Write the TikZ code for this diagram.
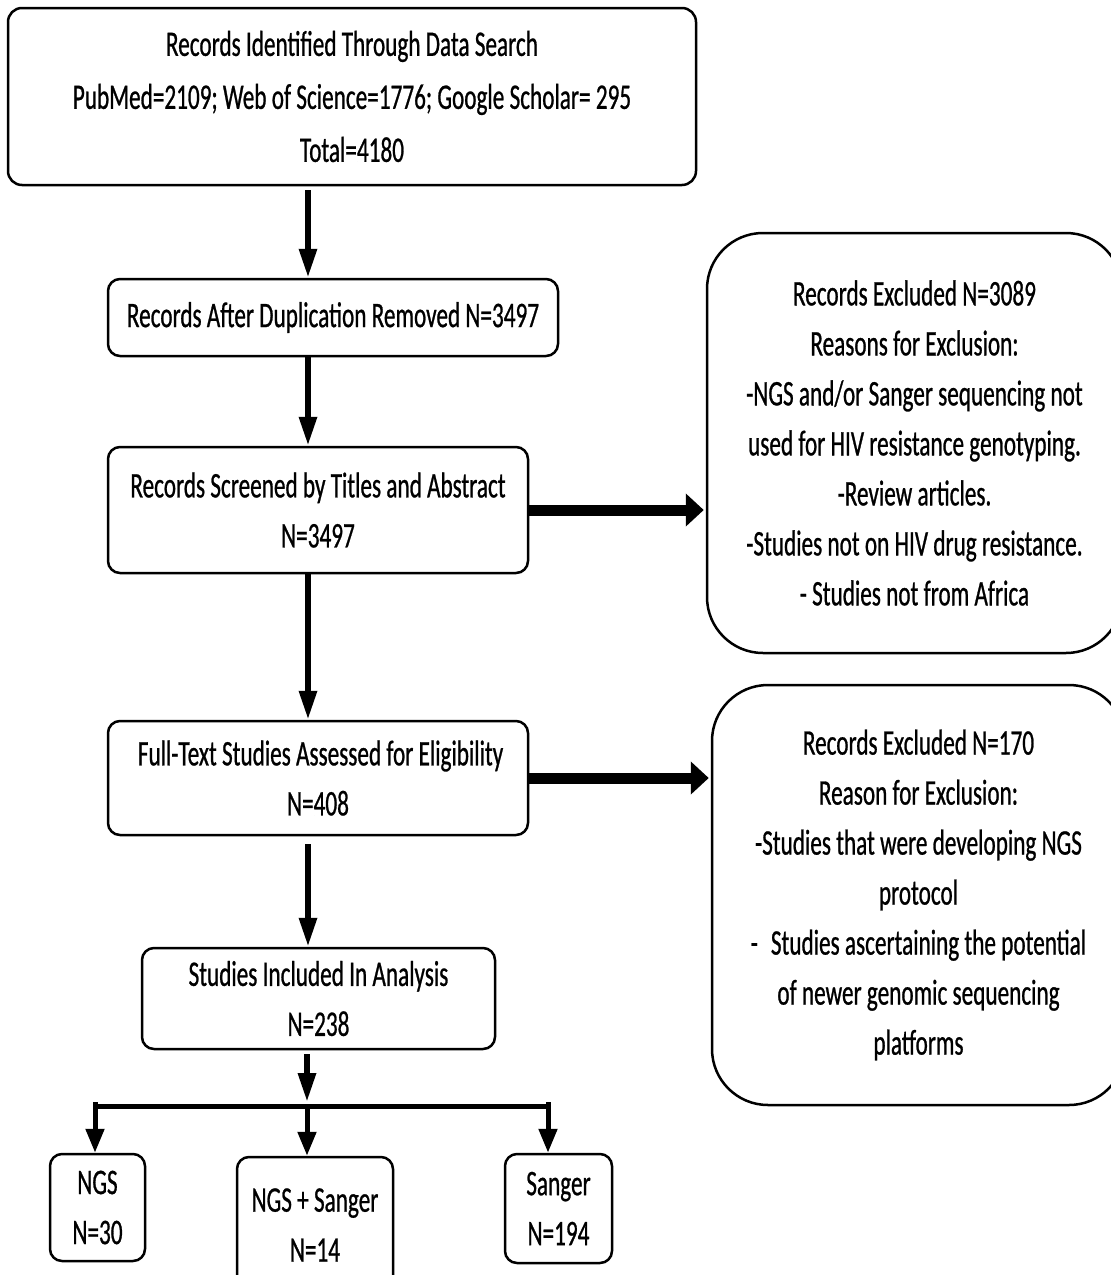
\documentclass[tikz,border=0pt]{standalone}
\usepackage{fontspec}
\setmainfont{Carlito}[FakeStretch=0.645,FakeBold=0.7]
\usetikzlibrary{arrows.meta}

\begin{document}
\begin{tikzpicture} [
  x=1pt, y=-1pt,
  font=\fontsize{36}{50}\selectfont,
  flow box/.style= {draw,line width=2.5pt,rounded corners=12pt,align=center,inner sep=0pt},
  side box/.style= {flow box,rounded corners=56pt},
  down arrow/.style= {line width=6pt,-{Triangle[length=29pt,width=17pt]}},
  side arrow/.style= {line width=11pt,shorten >=2pt,-{Triangle[length=18pt,width=32pt]}},
  split line/.style= {line width=5pt},
  split arrow/.style= {line width=5pt,-{Triangle[length=24pt,width=18pt]}},
]
\fill [white] (0,0) rectangle (1111,1275);
\useasboundingbox (0,0) rectangle (1111,1275);

\node (search) [flow box,rounded corners=14pt,minimum width=688,minimum height=177,font=\fontsize{36}{53}\selectfont] at (352,96.5)
  {Records Identified Through Data Search\\PubMed=2109; Web of Science=1776; Google Scholar= 295\\Total=4180};
\node (dedup) [flow box,minimum width=450,minimum height=77] at (333,317.5) {Records After Duplication Removed N=3497};
\node (screen) [flow box,minimum width=420,minimum height=126] at (318,510) {Records Screened by Titles and Abstract\\N=3497};
\node (fulltext) [flow box,minimum width=420,minimum height=114] at (318,778) {\ Full-Text Studies Assessed for Eligibility\\N=408};
\node (included) [flow box,minimum width=353,minimum height=101] at (318.5,998.5) {Studies Included In Analysis\\N=238};

\node (excl1) [side box,minimum width=415,minimum height=420] at (914.5,443)
  {Records Excluded N=3089\\Reasons for Exclusion:\\-NGS and/or Sanger sequencing not\\used for HIV resistance genotyping.\\-Review articles.\\-Studies not on HIV drug resistance.\\- Studies not from Africa};
\node (excl2) [side box,minimum width=413,minimum height=420] at (918.5,895)
  {Records Excluded N=170\\Reason for Exclusion:\\-Studies that were developing NGS\\protocol\\-\hspace{13pt}Studies ascertaining the potential\\of newer genomic sequencing\\platforms};

\node (ngs) [flow box,minimum width=95,minimum height=107] at (97.5,1207.5) {NGS\\N=30};
\node (both) [flow box,minimum width=156,minimum height=136] at (315,1225) {NGS + Sanger\\N=14};
\node (sanger) [flow box,minimum width=107,minimum height=109] at (558.5,1208.5) {Sanger\\N=194};

\coordinate (spine) at (308,0);
\coordinate (split) at (307,1106);
\coordinate (left end) at (95,1106);
\coordinate (right end) at (548,1106);

\draw [down arrow,shorten <=4pt] (search.south -| spine) -- (dedup.north -| spine);
\draw [down arrow] (dedup.south -| spine) -- (screen.north -| spine);
\draw [down arrow] (screen.south -| spine) -- (fulltext.north -| spine);
\draw [down arrow,shorten <=8pt] (fulltext.south -| spine) -- (included.north -| spine);
\draw [down arrow,shorten <=4pt] (included.south -| split) -- ([yshift=4pt]split);

\draw [side arrow] (screen.east) -- (screen.east -| excl1.west);
\draw [side arrow] (fulltext.east) -- (fulltext.east -| excl2.west);

\draw [split line] (left end) -- (right end);
\draw [split arrow] ([yshift=4pt]left end) -- (left end |- ngs.north);
\draw [split arrow] ([yshift=4pt]right end) -- (right end |- sanger.north);
\draw [split arrow] (split) -- (split |- both.north);
\end{tikzpicture}
\end{document}
